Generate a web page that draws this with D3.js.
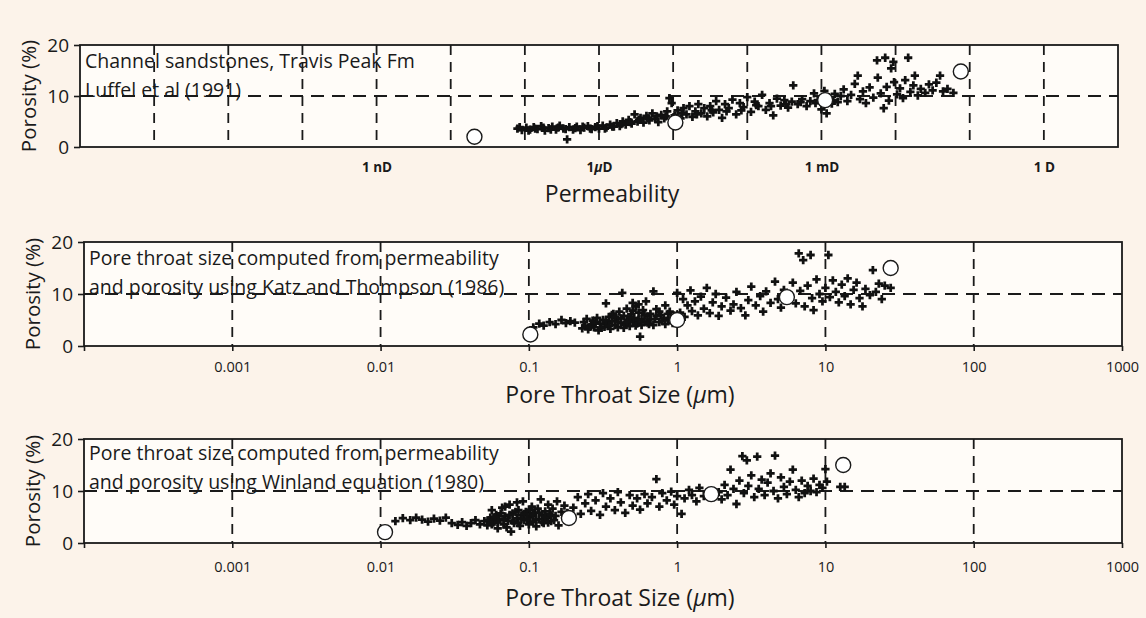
<!DOCTYPE html>
<html>
<head>
<meta charset="utf-8">
<script src="https://cdn.jsdelivr.net/npm/d3@7"></script>
<style>
    body { margin: 0; background: #fcf3ea; }
    svg text { font-family: "Open Sans", sans-serif; fill: #1a1a1a; }
</style>
</head>
<body>
<div id="chart"></div>
<script>

// x values are kept as log10 (mD for permeability, um for pore throat), y = porosity (%)
const permPlus = [
    [-4.10,3.6],[-4.04,3.3],[-3.98,3.8],[-3.93,3.4],[-3.88,3.9],[-3.83,3.5],[-3.78,4.1],[-3.73,3.2],[-3.68,3.7],[-3.63,4.0],
    [-3.58,3.4],[-3.53,4.2],[-3.48,3.6],[-3.43,1.5],[-3.40,3.9],[-3.35,3.4],[-3.30,4.0],[-3.25,3.3],[-3.20,3.8],[-3.15,4.1],
    [-3.10,3.5],[-3.05,3.9],[-3.00,3.6],[-2.95,4.2],[-2.90,3.8],[-2.85,4.4],[-2.80,4.0],[-2.76,4.7],[-2.72,4.1],[-2.68,5.0],
    [-2.64,4.4],[-2.60,5.3],[-2.56,4.6],[-2.52,6.4],[-2.48,5.0],[-2.44,5.7],[-2.40,4.8],[-2.36,6.1],[-2.32,5.2],[-2.28,6.6],
    [-2.24,5.5],[-2.20,4.9],[-2.16,6.3],[-2.12,5.6],[-2.08,7.0],[-2.05,9.6],[-2.02,8.6],[-1.98,6.2],[-1.94,7.2],[-1.90,5.6],
    [-1.86,7.6],[-1.82,6.4],[-1.78,8.0],[-1.74,5.9],[-1.70,7.0],[-1.66,8.4],[-1.62,6.6],[-1.58,7.6],[-1.54,6.0],[-1.50,8.0],
    [-1.46,6.8],[-1.42,9.0],[-1.38,7.3],[-1.34,5.7],[-1.30,8.4],[-1.25,7.6],[-1.20,9.3],[-1.15,6.4],[-1.10,8.6],[-1.05,7.8],
    [-1.00,9.8],[-0.95,6.9],[-0.90,8.9],[-0.85,8.0],[-0.80,10.2],[-0.75,7.3],[-0.70,8.6],[-0.65,6.2],[-0.60,9.5],[-0.55,8.1],
    [-0.50,9.2],[-0.45,7.7],[-0.40,8.9],[-0.38,12.1],[-0.32,8.4],[-0.26,9.4],[-0.20,8.0],[-0.15,9.0],[-0.10,10.5],[-0.05,9.2],
    [0.00,7.4],[0.04,11.0],[0.07,6.6],[0.10,9.8],[0.14,8.5],[0.18,10.4],[0.22,8.8],[0.26,10.0],[0.30,11.3],[0.35,9.0],
    [0.40,10.2],[0.45,12.4],[0.49,14.0],[0.52,9.4],[0.56,10.9],[0.60,8.6],[0.65,11.7],[0.70,9.7],[0.75,17.0],[0.76,13.6],
    [0.80,10.5],[0.84,7.6],[0.86,17.5],[0.88,11.8],[0.91,9.1],[0.94,15.4],[0.97,16.7],[0.98,12.7],[1.02,10.3],[1.06,11.5],
    [1.10,9.6],[1.13,13.1],[1.17,17.5],[1.20,10.8],[1.24,12.1],[1.26,14.0],[1.30,10.1],[1.34,11.4],[1.40,10.6],[1.45,12.3],
    [1.50,11.1],[1.55,12.6],[1.60,14.0],[1.64,10.9],[1.70,11.4],[1.78,10.6],
    [-4.07,3.9],[-3.95,3.2],[-3.86,3.6],[-3.75,3.8],[-3.65,3.4],[-3.55,3.8],[-3.45,3.5],[-3.32,3.7],[-3.22,4.0],[-3.12,3.6],
    [-3.02,4.1],[-2.92,3.6],[-2.82,4.0],[-2.70,4.5],[-2.58,4.9],[-2.46,5.3],[-2.34,5.6],[-2.22,6.0],[-2.10,6.0],[-1.88,6.6],
    [-1.68,6.4],[-1.48,7.2],[-1.28,7.0],[-1.08,7.2],[-0.88,8.2],[-0.68,8.0],[-0.48,8.4],[-0.28,8.8],[-0.08,8.6],[0.16,9.2]
];
const permCircles = [[-4.68,2.0],[-1.97,4.8],[0.05,9.2],[1.88,14.8]];

const katzPlus = [
    [-0.97,3.6],[-0.93,4.3],[-0.90,3.9],[-0.86,4.6],[-0.82,4.2],[-0.78,5.0],[-0.75,4.4],[-0.72,4.8],[-0.69,4.5],
    [-0.64,3.4],[-0.62,3.9],[-0.60,3.2],[-0.58,4.1],[-0.56,3.6],[-0.55,4.6],[-0.53,3.0],[-0.52,4.3],[-0.50,5.0],[-0.49,3.7],
    [-0.48,8.2],[-0.47,4.4],[-0.46,5.6],[-0.45,3.3],[-0.44,4.8],[-0.43,6.2],[-0.42,4.0],[-0.41,5.3],[-0.40,3.6],[-0.39,6.6],
    [-0.38,4.5],[-0.37,10.2],[-0.36,5.8],[-0.35,4.1],[-0.34,7.2],[-0.33,5.0],[-0.32,3.8],[-0.31,6.1],[-0.30,4.6],[-0.29,5.4],
    [-0.28,7.6],[-0.27,4.3],[-0.26,6.4],[-0.25,1.8],[-0.24,5.1],[-0.23,6.9],[-0.22,4.7],[-0.21,8.6],[-0.20,5.7],[-0.19,4.2],
    [-0.18,6.2],[-0.16,10.5],[-0.15,5.2],[-0.14,7.1],[-0.12,4.6],[-0.11,6.0],[-0.09,5.4],[-0.08,7.8],[-0.06,5.0],[-0.05,6.6],
    [-0.03,4.4],[-0.02,5.9],
    [-0.63,4.6],[-0.61,5.2],[-0.59,3.7],[-0.57,4.9],[-0.54,5.4],[-0.51,3.5],[-0.48,4.9],[-0.46,3.9],[-0.44,6.0],[-0.42,5.6],
    [-0.40,4.6],[-0.38,5.3],[-0.36,3.5],[-0.34,4.7],[-0.32,5.6],[-0.30,6.8],[-0.28,3.9],[-0.26,5.0],[-0.24,4.0],[-0.22,6.0],
    [-0.20,4.5],[-0.18,5.1],[-0.16,4.0],[-0.14,5.8],[-0.12,6.6],[-0.10,4.9],[-0.08,4.2],[-0.06,6.2],[-0.04,5.4],[-0.30,8.3],
    [-0.26,8.0],
    [0.00,10.2],[0.02,6.4],[0.04,9.0],[0.05,5.6],[0.07,7.8],[0.09,10.7],[0.10,6.7],[0.12,8.6],[0.14,5.9],[0.16,9.5],
    [0.18,7.2],[0.20,11.2],[0.22,6.3],[0.24,8.4],[0.26,10.0],[0.28,5.8],[0.30,7.6],[0.33,9.3],[0.36,6.8],[0.38,8.0],
    [0.40,10.4],[0.43,7.3],[0.46,5.9],[0.48,8.8],[0.50,11.4],[0.53,7.8],[0.56,9.6],[0.58,6.6],[0.60,10.5],[0.63,8.3],
    [0.66,12.4],[0.68,9.0],[0.70,7.4],[0.72,10.8],
    [0.76,9.5],[0.78,12.2],[0.80,8.2],[0.82,17.8],[0.83,10.6],[0.85,16.5],[0.86,7.6],[0.88,11.6],[0.90,17.5],[0.91,9.2],
    [0.92,6.9],[0.94,12.8],[0.96,10.0],[0.98,8.6],[1.00,11.2],[1.02,17.5],[1.03,9.4],[1.05,12.6],[1.07,10.4],[1.09,8.4],
    [1.11,11.8],[1.13,9.6],[1.15,13.0],[1.17,8.0],[1.19,10.8],[1.21,12.2],[1.23,9.2],[1.25,7.6],[1.27,11.0],[1.30,9.8],
    [1.32,14.6],[1.34,10.4],[1.36,12.0],[1.38,9.0],[1.40,11.6],[1.44,11.2]
];
const katzCircles = [[-0.99,2.2],[0.00,5.0],[0.74,9.4],[1.44,15.0]];

const winlandPlus = [
    [-1.90,4.2],[-1.85,4.8],[-1.80,4.4],[-1.76,4.9],[-1.72,4.5],[-1.68,4.1],[-1.64,4.7],[-1.60,4.3],[-1.56,4.9],[-1.52,3.8],
    [-1.48,3.5],[-1.45,4.0],[-1.42,3.3],[-1.39,3.8],[-1.36,4.4],[-1.33,3.6],[-1.30,4.2],
    [-1.28,3.4],[-1.26,4.9],[-1.25,6.3],[-1.24,3.9],[-1.22,5.4],[-1.21,2.8],[-1.20,4.5],[-1.18,6.8],[-1.17,3.6],[-1.16,5.1],
    [-1.14,4.2],[-1.13,7.4],[-1.12,2.2],[-1.11,5.7],[-1.10,3.8],[-1.08,4.8],[-1.07,6.3],[-1.06,3.3],[-1.05,5.3],[-1.04,8.0],
    [-1.03,4.4],[-1.02,6.0],[-1.00,3.6],[-0.99,5.0],[-0.98,7.0],[-0.97,4.1],[-0.96,5.8],[-0.95,3.2],[-0.94,6.6],[-0.93,4.6],
    [-0.92,8.4],[-0.91,5.4],[-0.90,3.8],[-0.89,6.1],[-0.88,4.9],[-0.87,7.4],[-0.86,5.6],[-0.85,4.2],[-0.84,6.6],[-0.82,5.2],
    [-0.81,8.0],[-0.80,3.4],[-0.78,6.0],[-0.76,7.2],
    [-1.27,4.4],[-1.25,3.6],[-1.23,5.0],[-1.21,4.0],[-1.19,5.7],[-1.17,4.6],[-1.15,3.0],[-1.13,5.4],[-1.11,4.3],[-1.09,6.0],
    [-1.07,3.8],[-1.05,4.7],[-1.03,5.6],[-1.01,4.6],[-0.99,6.4],[-0.97,5.4],[-0.95,4.5],[-0.93,5.8],[-0.91,4.0],[-0.89,5.0],
    [-0.87,3.9],[-0.85,5.3],[-0.83,4.4],[-1.16,7.0],[-1.08,7.8],
    [-0.74,5.8],[-0.70,6.8],[-0.67,8.8],[-0.65,5.6],[-0.62,7.6],[-0.60,9.4],[-0.58,6.2],[-0.55,8.2],[-0.52,5.4],[-0.50,9.6],
    [-0.48,7.0],[-0.45,8.6],[-0.42,6.3],[-0.40,9.8],[-0.38,7.8],[-0.35,5.8],[-0.32,9.2],[-0.30,7.2],[-0.27,8.6],[-0.25,6.4],
    [-0.22,9.4],[-0.20,7.6],[-0.17,8.8],[-0.14,12.3],[-0.12,7.0],[-0.10,9.6],[-0.07,8.2],[-0.04,9.9],[-0.02,7.4],[0.00,9.0],
    [0.03,5.6],[0.05,8.6],[0.08,10.2],[0.10,9.2],[0.13,8.0],[0.15,10.6],[0.18,9.0],
    [0.28,9.8],[0.30,8.4],[0.32,11.2],[0.34,9.2],[0.36,14.1],[0.38,10.4],[0.40,7.5],[0.42,12.0],[0.44,16.7],[0.45,9.6],
    [0.47,15.9],[0.48,11.0],[0.50,13.0],[0.52,8.8],[0.54,16.6],[0.55,10.4],[0.57,12.2],[0.59,9.2],[0.61,11.6],[0.63,13.4],
    [0.65,10.0],[0.66,16.8],[0.68,8.6],[0.70,12.6],[0.72,10.8],[0.74,9.4],[0.76,11.8],[0.78,14.1],[0.80,10.2],[0.82,8.8],
    [0.84,12.0],[0.86,9.6],[0.88,11.0],[0.90,10.0],[0.92,12.4],[0.94,9.8],[0.96,11.2],[0.98,10.6],[1.00,14.2],[1.01,11.8],
    [1.10,10.8],[1.13,10.8]
];
const winlandCircles = [[-1.97,2.1],[-0.73,4.8],[0.23,9.4],[1.12,15.0]];

const porosityTicks = [0, 10, 20];
const permGrid = [1e-9, 1e-8, 1e-7, 1e-6, 1e-5, 1e-4, 1e-3, 1e-2, 1e-1, 1, 10, 100, 1000];
const permTicks = [1e-6, 1e-3, 1, 1000];
const permTickLabels = ["1 nD", "1\u00b5D", "1 mD", "1 D"];
const poreGrid = [0.001, 0.01, 0.1, 1, 10, 100];
const poreTicks = [0.0001, 0.001, 0.01, 0.1, 1, 10, 100, 1000];
const poreTickLabels = ["", "0.001", "0.01", "0.1", "1", "10", "100", "1000"];

const svg = d3.select("#chart").append("svg")
    .attr("width", 1146)
    .attr("height", 618);

// writes a string into a text element, greek mu in italic
function muText(sel, str) {
    sel.text(null);
    str.split("\u00b5").forEach(function (part, i) {
        if (i > 0) sel.append("tspan").style("font-style", "italic").text("\u00b5");
        sel.append("tspan").text(part);
    });
}

ScatterPanel = function (_cfg) {
    this.cfg = _cfg;
    this.initVis();
}

ScatterPanel.prototype.initVis = function () {
    const vis = this;
    const c = vis.cfg;

    vis.x = d3.scaleLog().domain(c.domain).range([c.left, c.right]);
    vis.y = d3.scaleLinear().domain([0, 20]).range([c.bottom, c.top]);

    vis.g = svg.append("g");

    vis.g.append("rect")
        .attr("x", c.left).attr("y", c.top)
        .attr("width", c.right - c.left).attr("height", c.bottom - c.top)
        .attr("fill", "#fffcf8");

    // dashed decade grid + 10% line
    vis.g.selectAll(".vgrid").data(c.grid).enter().append("line")
        .attr("class", "vgrid")
        .attr("x1", d => vis.x(d)).attr("x2", d => vis.x(d))
        .attr("y1", c.top).attr("y2", c.bottom)
        .attr("stroke", "#1a1a1a").attr("stroke-width", 1.8)
        .attr("stroke-dasharray", "10,7");

    vis.g.append("line")
        .attr("x1", c.left).attr("x2", c.right)
        .attr("y1", vis.y(10)).attr("y2", vis.y(10))
        .attr("stroke", "#1a1a1a").attr("stroke-width", 1.8)
        .attr("stroke-dasharray", "13,8");

    vis.g.selectAll(".note").data(c.note).enter().append("text")
        .attr("class", "note")
        .attr("x", c.left + 5)
        .attr("y", (d, i) => c.noteY + i * 29)
        .style("font-size", "19.5px")
        .text(d => d);

    vis.g.selectAll(".plus").data(c.plus).enter().append("path")
        .attr("class", "plus")
        .attr("d", d3.symbol().type(d3.symbolCross).size(38))
        .attr("transform", d => "translate(" + vis.x(Math.pow(10, d[0])) + "," + vis.y(d[1]) + ")")
        .attr("fill", "#111");

    vis.g.selectAll(".ring").data(c.circles).enter().append("circle")
        .attr("class", "ring")
        .attr("cx", d => vis.x(Math.pow(10, d[0])))
        .attr("cy", d => vis.y(d[1]))
        .attr("r", 7.5)
        .attr("fill", "#fff")
        .attr("stroke", "#1a1a1a")
        .attr("stroke-width", 1.4);

    vis.g.append("rect")
        .attr("x", c.left).attr("y", c.top)
        .attr("width", c.right - c.left).attr("height", c.bottom - c.top)
        .attr("fill", "none")
        .attr("stroke", "#1a1a1a").attr("stroke-width", 1.8);

    // axes
    vis.yAxis = d3.axisLeft(vis.y).tickValues(porosityTicks).tickSize(6).tickPadding(5);
    vis.g.append("g")
        .attr("transform", "translate(" + c.left + ",0)")
        .call(vis.yAxis)
        .call(g => g.select(".domain").remove())
        .call(g => g.selectAll("line").attr("stroke", "#1a1a1a").attr("stroke-width", 1.6))
        .call(g => g.selectAll("text").style("font-size", "19px").attr("fill", "#1a1a1a"));

    vis.xAxis = d3.axisBottom(vis.x).tickValues(c.ticks)
        .tickSize(c.tickSize).tickPadding(c.tickPad)
        .tickFormat((d, i) => c.tickLabels[i]);
    vis.g.append("g")
        .attr("transform", "translate(0," + c.bottom + ")")
        .call(vis.xAxis)
        .call(g => g.select(".domain").remove())
        .call(g => g.selectAll("line").attr("stroke", "#1a1a1a").attr("stroke-width", 1.6))
        .call(g => g.selectAll("text")
            .style("font-size", c.tickFont)
            .style("font-weight", c.tickWeight)
            .attr("fill", "#1a1a1a")
            .each(function (d, i) { muText(d3.select(this), c.tickLabels[i]); }));

    vis.g.append("text")
        .attr("transform", "translate(" + (c.left - 51) + "," + ((c.top + c.bottom) / 2) + ") rotate(-90)")
        .attr("text-anchor", "middle")
        .attr("dy", "0.35em")
        .style("font-size", "20.5px")
        .text("Porosity (%)");

    vis.title = vis.g.append("text")
        .attr("x", c.titleX)
        .attr("y", c.titleY)
        .attr("text-anchor", "middle")
        .style("font-size", "23px");
    muText(vis.title, c.title);
}

new ScatterPanel({
    domain: [1e-10, 1e4], left: 80, right: 1118, top: 45, bottom: 147,
    grid: permGrid, ticks: permTicks, tickLabels: permTickLabels,
    tickSize: 0, tickPad: 15, tickFont: "13.5px", tickWeight: "bold",
    plus: permPlus, circles: permCircles,
    note: ["Channel sandstones, Travis Peak Fm", "Luffel et al (1991)"], noteY: 68,
    title: "Permeability", titleX: 612, titleY: 202
});

new ScatterPanel({
    domain: [1e-4, 1e3], left: 84, right: 1122, top: 242, bottom: 346,
    grid: poreGrid, ticks: poreTicks, tickLabels: poreTickLabels,
    tickSize: 5, tickPad: 11, tickFont: "14.5px", tickWeight: "normal",
    plus: katzPlus, circles: katzCircles,
    note: ["Pore throat size computed from permeability", "and porosity using Katz and Thompson (1986)"], noteY: 265,
    title: "Pore Throat Size (\u00b5m)", titleX: 620, titleY: 403
});

new ScatterPanel({
    domain: [1e-4, 1e3], left: 84, right: 1122, top: 439, bottom: 543,
    grid: poreGrid, ticks: poreTicks, tickLabels: poreTickLabels,
    tickSize: 5, tickPad: 14, tickFont: "14.5px", tickWeight: "normal",
    plus: winlandPlus, circles: winlandCircles,
    note: ["Pore throat size computed from permeability", "and porosity using Winland equation (1980)"], noteY: 460,
    title: "Pore Throat Size (\u00b5m)", titleX: 620, titleY: 606
});

</script>
</body>
</html>
